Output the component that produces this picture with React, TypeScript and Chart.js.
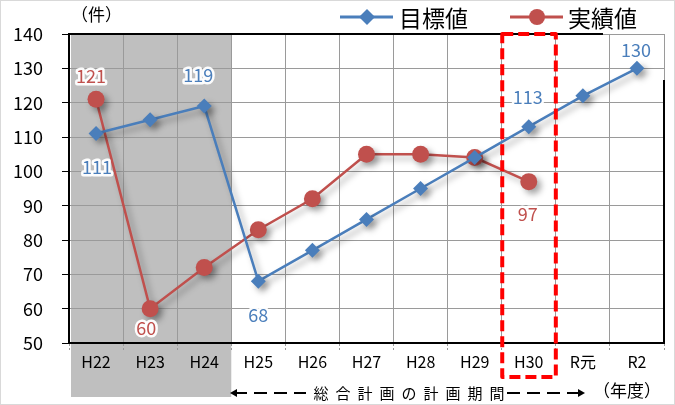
import React, { useEffect, useRef } from "react";
import { Chart, registerables } from "chart.js";

Chart.register(...registerables);

const categories = ["H22", "H23", "H24", "H25", "H26", "H27", "H28", "H29", "H30", "R元", "R2"];
const targetValues = [111, 115, 119, 68, 77, 86, 95, 104, 113, 122, 130];
const actualValues: (number | null)[] = [121, 60, 72, 83, 92, 105, 105, 104, 97, null, null];
const seriesNames = ["目標値", "実績値"];
const yTicks = { min: 50, max: 140, step: 10 };

// which values get a printed label, and where it sits relative to the point (px)
const targetLabelPlacement: Record<number, [number, number]> = {
  0: [1, 34],
  2: [-6, -31],
  3: [0, 34],
  8: [-1, -30],
  10: [-1, -18],
};
const actualLabelPlacement: Record<number, [number, number]> = {
  0: [-5, -23],
  1: [-4, 19],
  8: [-1, 33],
};

const BLUE = "#4A7EBB";
const RED = "#C0504D";
const FONT = "'Noto Sans CJK JP', 'Noto Sans', sans-serif";

export default function App() {
  const ref = useRef<HTMLCanvasElement | null>(null);

  useEffect(() => {
    const canvas = ref.current;
    if (!canvas) return;

    const decor = {
      id: "decor",
      beforeDraw(chart: any) {
        const { ctx, chartArea, scales } = chart;
        const x = scales.x;
        ctx.save();
        ctx.strokeStyle = "#d9d9d9";
        ctx.lineWidth = 1;
        ctx.strokeRect(0.5, 0.5, chart.width - 1, chart.height - 1);
        const half = (x.getPixelForValue(1) - x.getPixelForValue(0)) / 2;
        const x0 = x.getPixelForValue(0) - half + 2;
        const x1 = x.getPixelForValue(2) + half;
        ctx.fillStyle = "#BFBFBF";
        ctx.fillRect(x0, chartArea.top, x1 - x0, 397 - chartArea.top);
        ctx.restore();
      },
      beforeDatasetsDraw(chart: any) {
        const { ctx } = chart;
        ctx.save();
        ctx.shadowColor = "rgba(0,0,0,0.35)";
        ctx.shadowBlur = 6;
        ctx.shadowOffsetX = 4;
        ctx.shadowOffsetY = 4;
      },
      afterDatasetsDraw(chart: any) {
        chart.ctx.restore();
      },
      afterDraw(chart: any) {
        const { ctx, chartArea, scales } = chart;
        const x = scales.x;
        ctx.save();

        ctx.strokeStyle = "#000";
        ctx.lineWidth = 2;
        ctx.beginPath();
        ctx.moveTo(chartArea.left, chartArea.top);
        ctx.lineTo(603, chartArea.top);
        ctx.moveTo(chartArea.right, 80);
        ctx.lineTo(chartArea.right, chartArea.bottom);
        ctx.stroke();

        const drawLabels = (dsIndex: number, placement: Record<number, [number, number]>, color: string) => {
          const meta = chart.getDatasetMeta(dsIndex);
          ctx.font = `18px ${FONT}`;
          ctx.textAlign = "center";
          ctx.textBaseline = "middle";
          ctx.lineJoin = "round";
          Object.keys(placement).forEach((k) => {
            const i = Number(k);
            const pt = meta.data[i];
            const v = chart.data.datasets[dsIndex].data[i];
            if (!pt || v == null) return;
            const [dx, dy] = placement[i];
            const tx = pt.x + dx;
            const ty = pt.y + dy;
            ctx.strokeStyle = "rgba(255,255,255,0.95)";
            ctx.lineWidth = 5;
            ctx.strokeText(String(v), tx, ty);
            ctx.fillStyle = color;
            ctx.fillText(String(v), tx, ty);
          });
        };
        drawLabels(0, targetLabelPlacement, BLUE);
        drawLabels(1, actualLabelPlacement, RED);

        const half = (x.getPixelForValue(1) - x.getPixelForValue(0)) / 2;
        const hx = x.getPixelForValue(8);
        ctx.strokeStyle = "#FF0000";
        ctx.lineWidth = 4;
        ctx.setLineDash([11, 5]);
        ctx.beginPath();
        const rx0 = hx - half + 0.5;
        const rx1 = hx + half;
        const ry0 = chartArea.top;
        const ry1 = 377;
        ctx.moveTo(rx0, ry0);
        ctx.lineTo(rx1, ry0);
        ctx.lineTo(rx1, ry1);
        ctx.lineTo(rx0, ry1);
        ctx.closePath();
        ctx.stroke();
        ctx.setLineDash([]);

        ctx.fillStyle = "#000";
        ctx.font = `17px ${FONT}`;
        ctx.textAlign = "left";
        ctx.textBaseline = "middle";
        ctx.fillText("（件）", 71, 15);

        const legendY = 17;
        ctx.lineWidth = 3;
        ctx.strokeStyle = BLUE;
        ctx.beginPath();
        ctx.moveTo(340, legendY);
        ctx.lineTo(393, legendY);
        ctx.stroke();
        ctx.fillStyle = BLUE;
        ctx.beginPath();
        ctx.moveTo(367, legendY - 8);
        ctx.lineTo(375, legendY);
        ctx.lineTo(367, legendY + 8);
        ctx.lineTo(359, legendY);
        ctx.closePath();
        ctx.fill();
        ctx.strokeStyle = RED;
        ctx.beginPath();
        ctx.moveTo(510, legendY);
        ctx.lineTo(563, legendY);
        ctx.stroke();
        ctx.fillStyle = RED;
        ctx.beginPath();
        ctx.arc(537, legendY, 8, 0, Math.PI * 2);
        ctx.fill();
        ctx.fillStyle = "#000";
        ctx.font = `23px ${FONT}`;
        ctx.fillText(seriesNames[0], 399, legendY + 1);
        ctx.fillText(seriesNames[1], 568, legendY + 1);

        const ay = 393;
        ctx.strokeStyle = "#000";
        ctx.fillStyle = "#000";
        ctx.lineWidth = 2;
        ctx.setLineDash([13, 7]);
        ctx.beginPath();
        ctx.moveTo(234, ay);
        ctx.lineTo(306, ay);
        ctx.moveTo(507, ay);
        ctx.lineTo(578, ay);
        ctx.stroke();
        ctx.setLineDash([]);
        ctx.beginPath();
        ctx.moveTo(230, ay);
        ctx.lineTo(237, ay - 4);
        ctx.lineTo(237, ay + 4);
        ctx.closePath();
        ctx.fill();
        ctx.beginPath();
        ctx.moveTo(585, ay);
        ctx.lineTo(578, ay - 4);
        ctx.lineTo(578, ay + 4);
        ctx.closePath();
        ctx.fill();
        const caption = "総合計画の計画期間";
        ctx.font = `15px ${FONT}`;
        ctx.textAlign = "center";
        for (let i = 0; i < caption.length; i++) {
          ctx.fillText(caption[i], 321 + i * 22, ay);
        }
        ctx.font = `17px ${FONT}`;
        ctx.textAlign = "left";
        ctx.fillText("（年度）", 593, 391);

        ctx.restore();
      },
    };

    const chart = new Chart(canvas, {
      type: "line",
      data: {
        labels: categories,
        datasets: [
          {
            label: seriesNames[0],
            data: targetValues,
            borderColor: BLUE,
            backgroundColor: BLUE,
            borderWidth: 2.5,
            pointStyle: "rectRot",
            pointRadius: 7.5,
            pointBorderWidth: 0,
            tension: 0,
          },
          {
            label: seriesNames[1],
            data: actualValues,
            borderColor: RED,
            backgroundColor: RED,
            borderWidth: 2.5,
            pointStyle: "circle",
            pointRadius: 8.5,
            pointBorderWidth: 0,
            tension: 0,
          },
        ],
      },
      options: {
        responsive: false,
        animation: false,
        devicePixelRatio: 1,
        layout: { padding: { left: 0, right: 11, top: 34, bottom: 0 } },
        plugins: {
          legend: { display: false },
          tooltip: { enabled: false },
        },
        scales: {
          x: {
            type: "category",
            offset: true,
            afterFit(scale: any) {
              scale.height = 62;
            },
            grid: {
              offset: true,
              color: "#9a9a9a",
              lineWidth: 1,
              borderDash: [2, 2],
              tickBorderDash: [2, 2],
              tickLength: 7,
              tickColor: "#9a9a9a",
            },
            border: { display: true, color: "#000", width: 2 },
            ticks: {
              color: "#000",
              font: { family: FONT, size: 16 },
              padding: 2,
              maxRotation: 0,
              autoSkip: false,
            },
          },
          y: {
            min: yTicks.min,
            max: yTicks.max,
            afterFit(scale: any) {
              scale.width = 69;
            },
            grid: {
              color: "#9a9a9a",
              lineWidth: 1,
              borderDash: [2, 2],
              tickBorderDash: [],
              tickLength: 7,
              tickColor: "#000",
            },
            border: { display: true, color: "#000", width: 2 },
            ticks: {
              stepSize: yTicks.step,
              color: "#000",
              font: { family: FONT, size: 18 },
              padding: 19,
            },
          },
        },
      },
      plugins: [decor],
    } as any);

    return () => chart.destroy();
  }, []);

  return (
    <div style={{ position: "fixed", left: 0, top: 0, width: 675, height: 405, background: "#fff" }}>
      <canvas ref={ref} width={675} height={405} />
    </div>
  );
}
